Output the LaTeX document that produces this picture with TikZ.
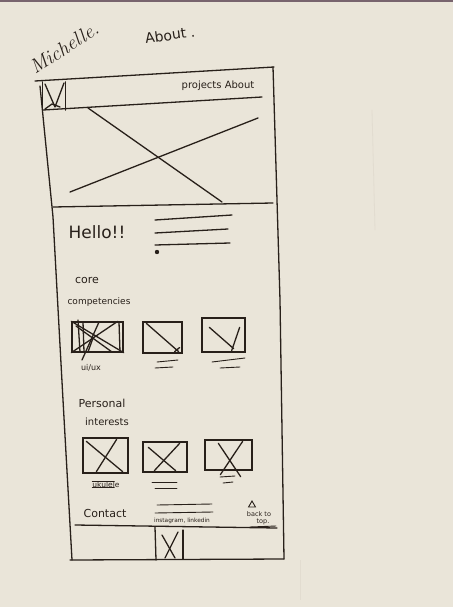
\documentclass[tikz,border=0pt]{standalone}
\usepackage{fontspec}
\setsansfont{DejaVu Sans}
\usetikzlibrary{shapes.geometric}
\begin{document}
\begin{tikzpicture}[x=1pt,y=-1pt,
  ink/.style={draw=inkc,line width=1.3pt,line cap=round,line join=round},
  thin/.style={draw=inkc,line width=0.9pt,line cap=round},
  hand/.style={text=inkc,inner sep=0pt,font=\sffamily},
  imgbox/.style={draw=inkc,line width=1.3pt,minimum width=#1,inner sep=0pt},
]
\definecolor{paper}{RGB}{234,229,217}
\definecolor{inkc}{RGB}{40,32,26}
\definecolor{edge}{RGB}{120,100,110}
\definecolor{ghost}{RGB}{226,220,208}
\useasboundingbox (0,0) rectangle (453,607);
\fill[paper] (0,0) rectangle (453,607);
\fill[edge] (0,0) rectangle (453,2.5);

% faint marks showing through the paper
\draw[ghost,line width=0.8pt] (372,110) -- (375,230);
\draw[ghost,line width=0.8pt] (300,560) -- (300,600);

% heading scribbles
\node[hand,font=\itshape\fontsize{20}{20}\selectfont,rotate=33] (name) at (64,48) {Michelle.};
\node[hand,font=\sffamily\fontsize{14}{14}\selectfont,rotate=8] (about) at (170,35) {About .};

% phone outline
\coordinate (tl) at (35,81);
\coordinate (tr) at (274,67);
\coordinate (br) at (284,559);
\coordinate (bl) at (70,560);
\draw[ink] (tl) -- (tr);
\draw[ink] (273,67) -- (280,300) -- (br);
\draw[ink] (bl) -- (br);
\draw[ink] (40,86) -- (53,217) -- (63,400) -- (72,560);

% header bar
\draw[ink] (43,110) -- (262,97);
\node[imgbox=22pt,minimum height=27pt,draw=none] (logo) at (54,96) {};
\draw[ink] (logo.north west) -- (logo.south west);
\draw[ink] (logo.north east) -- (logo.south east);
\draw[ink] (45,84) -- (55,107) -- (64,83);
\draw[ink] (45,109) -- (52,104) -- (60,107);
\node[hand,font=\sffamily\fontsize{10}{10}\selectfont] (nav) at (218,86) {projects About};

% hero image
\coordinate (h1) at (88,108);
\coordinate (h2) at (222,202);
\coordinate (h3) at (70,192);
\coordinate (h4) at (258,118);
\draw[ink] (h1) -- (h2);
\draw[ink] (h3) -- (h4);
\draw[ink] (53,207) -- (273,203);

% intro
\node[hand,font=\sffamily\fontsize{17}{17}\selectfont] (hello) at (97,232) {Hello!!};
\draw[ink] (155,220) -- (232,215);
\draw[ink] (155,233) -- (228,229);
\draw[ink] (155,245) -- (230,243);
\fill[inkc] (157,252) circle (2.2);

% core competencies
\node[hand,font=\sffamily\fontsize{11}{11}\selectfont] (core) at (87,280) {core};
\node[hand,font=\sffamily\fontsize{9}{9}\selectfont] (comp) at (99,302) {competencies};

\node[imgbox=51pt,minimum height=30pt] (c1) at (97.5,337) {};
\draw[ink] (c1.north west) -- (c1.south east);
\draw[ink] (c1.south west) -- ([xshift=-6pt]c1.north east);
\draw[ink] (78,320) -- (80,352);
\draw[ink] (83,322) -- (84,352);
\draw[ink] (76,326) -- (112,352);
\draw[ink] (82,360) -- (99,322);
\draw[ink] (88,352) -- (93,338);
\draw[ink] (119,322) -- (120,352);
\node[hand,font=\sffamily\fontsize{8}{8}\selectfont] (c1t) at (91,368) {ui/ux};

\node[imgbox=39pt,minimum height=31pt] (c2) at (162.5,337.5) {};
\draw[ink] ([xshift=4pt,yshift=-2pt]c2.north west) -- ([xshift=-4pt,yshift=2pt]c2.south east);
\draw[ink] ([xshift=-8pt,yshift=2pt]c2.south east) -- ([xshift=-3pt,yshift=-10pt]c2.east);
\draw[thin] (157,362) -- (178,360);
\draw[thin] (155,368) -- (173,367);

\node[imgbox=43pt,minimum height=34pt] (c3) at (223.5,335) {};
\draw[ink] ([xshift=8pt,yshift=-10pt]c3.north west) -- ([xshift=-12pt,yshift=4pt]c3.south east);
\draw[ink] ([xshift=-14pt,yshift=2pt]c3.south east) -- ([xshift=-6pt,yshift=-10pt]c3.north east);
\draw[thin] (212,362) -- (245,358);
\draw[thin] (220,368) -- (240,367);

% personal interests
\node[hand,font=\sffamily\fontsize{11}{11}\selectfont] (pers) at (102,403) {Personal};
\node[hand,font=\sffamily\fontsize{10}{10}\selectfont] (inter) at (107,422) {interests};

\node[imgbox=45pt,minimum height=35pt] (p1) at (105.5,455.5) {};
\draw[ink] ([xshift=4pt,yshift=-4pt]p1.north west) -- ([xshift=-6pt,yshift=2pt]p1.south east);
\draw[ink] ([xshift=14pt,yshift=2pt]p1.south west) -- ([xshift=-12pt,yshift=-2pt]p1.north east);
\node[hand,font=\sffamily\fontsize{7.5}{7.5}\selectfont] (p1t) at (106,485) {ukulele};
\draw[thin] (p1t.north west) -- ++(22,0);
\draw[thin] ([yshift=1pt]p1t.south west) -- ++(22,0);

\node[imgbox=44pt,minimum height=30pt] (p2) at (165,457) {};
\draw[ink] ([xshift=6pt,yshift=-6pt]p2.north west) -- ([xshift=-12pt,yshift=2pt]p2.south east);
\draw[ink] ([xshift=12pt,yshift=2pt]p2.south west) -- ([xshift=-8pt,yshift=-2pt]p2.north east);
\draw[thin] (152,482) -- (177,482);
\draw[thin] (155,488) -- (177,488);

\node[imgbox=47pt,minimum height=30pt] (p3) at (228.5,455) {};
\draw[ink] ([xshift=14pt,yshift=-4pt]p3.north west) -- ([xshift=-12pt,yshift=-6pt]p3.south east);
\draw[ink] ([xshift=16pt,yshift=-4pt]p3.south west) -- ([xshift=-10pt,yshift=-2pt]p3.north east);
\draw[thin] (220,477) -- (235,476);
\draw[thin] (223,483) -- (233,482);

% footer
\node[hand,font=\sffamily\fontsize{11}{11}\selectfont] (contact) at (105,513) {Contact};
\draw[thin] (157,505) -- (212,504);
\draw[thin] (155,513) -- (213,512);
\node[hand,font=\sffamily\fontsize{5.8}{5.8}\selectfont] (social) at (182,521) {instagram, linkedin};
\node[draw=inkc,line width=0.9pt,regular polygon,regular polygon sides=3,minimum size=8pt,inner sep=0pt] (arrow) at (252,505) {};
\node[hand,font=\sffamily\fontsize{6.5}{6.5}\selectfont] (back) at (259,514) {back to};
\node[hand,font=\sffamily\fontsize{6.5}{6.5}\selectfont] (top) at (263,522) {top.};
\draw[thin] (250,527) -- (276,526);
\draw[ink] (75,525) -- (277,528);

% bottom logo
\draw[ink] (155,527) -- (156,560);
\draw[ink] (183,530) -- (183,559);
\draw[ink] (162,535) -- (175,558);
\draw[ink] (165,558) -- (178,532);
\end{tikzpicture}
\end{document}
